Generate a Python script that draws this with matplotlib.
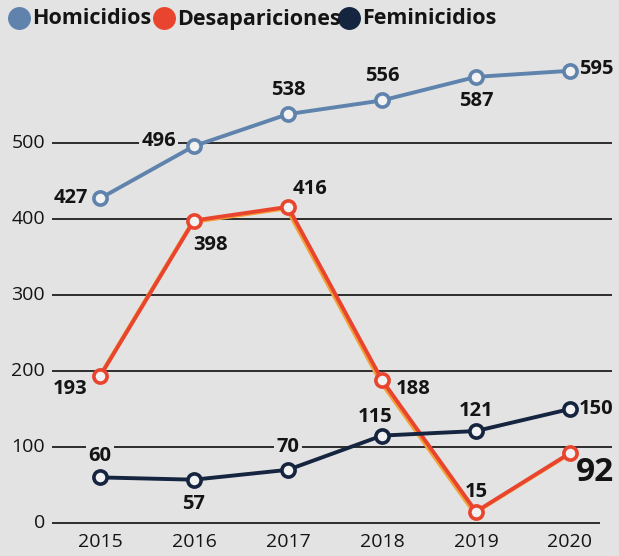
import matplotlib
matplotlib.use("Agg")
import matplotlib.pyplot as plt
from matplotlib.transforms import Affine2D

years = [2015, 2016, 2017, 2018, 2019, 2020]
homicidios = [427, 496, 538, 556, 587, 595]
desapariciones = [193, 398, 416, 188, 15, 92]
feminicidios = [60, 57, 70, 115, 121, 150]
y_ticks = [0, 100, 200, 300, 400, 500]
series_names = ["Homicidios", "Desapariciones", "Feminicidios"]

# label offsets in pixels (dx, dy, ha) for each point
hom_off = [(-12, 0, "right"), (-18, 5, "right"), (0, 24, "center"),
           (0, 24, "center"), (0, -24, "center"), (9, 2, "left")]
des_off = [(-30, -13, "center"), (17, -24, "center"), (22, 18, "center"),
           (14, -9, "left"), (0, 20, "center"), (6, -19, "left")]
fem_off = [(0, 21, "center"), (0, -24, "center"), (0, 23, "center"),
           (-7, 19, "center"), (0, 20, "center"), (9, 0, "left")]

bg = "#e3e3e3"
c_hom = "#5f83ad"
c_des = "#e9452e"
c_fem = "#15243f"
ink = "#141414"

plt.rcParams["font.family"] = ["Open Sans", "DejaVu Sans"]

W, H = 619, 556
fig = plt.figure(figsize=(W / 100, H / 100), dpi=100, facecolor=bg)
ax = fig.add_axes((0, 0, 1, 1))
ax.set_facecolor(bg)
ax.axis("off")

# pixel mapping: 2015 -> x=100, 94 px per year; 0 -> y=523, 0.76 px per unit
ppx = 94.0
ppy = 0.76
ax.set_xlim(2015 - 100 / ppx, 2015 + (W - 100) / ppx)
ax.set_ylim(-(H - 523) / ppy, 523 / ppy)

x0 = 2015 - 48 / ppx
x1 = 2015 + 512 / ppx
for t in y_ticks:
    ax.hlines(t, x0, x1 if t else 2015 + 500 / ppx, color="#1e1e1e", lw=1.3, zorder=1)
    ax.text(2015 - 55 / ppx, t, str(t), ha="right", va="center",
            fontsize=14, color=ink, zorder=2)

for yr in years:
    ax.text(yr, -(542 - 523) / ppy, str(yr), ha="center", va="center",
            fontsize=14, color=ink)


def draw(vals, color, offs, big_last=False):
    ax.plot(years, vals, color=color, lw=2.8, zorder=4,
            marker="o", ms=9.5, mfc="#f2f2f2", mec=color, mew=2.6,
            solid_capstyle="round")
    for i, (yr, v) in enumerate(zip(years, vals)):
        dx, dy, ha = offs[i]
        big = big_last and i == len(vals) - 1
        ax.annotate(str(v), (yr, v), xytext=(dx, dy), textcoords="offset pixels",
                    ha=ha, va="center", fontsize=24 if big else 14.5,
                    fontweight="bold", color=ink, zorder=3,
                    bbox=dict(boxstyle="square,pad=0.12", fc=bg, ec="none"))


# slight orange misregistration under the red line
ax.plot(years, desapariciones, color="#f2a23a", lw=2.8, zorder=3.5,
        transform=ax.transData + Affine2D().translate(-1.5, -1.5))
draw(homicidios, c_hom, hom_off)
draw(desapariciones, c_des, des_off, big_last=True)
draw(feminicidios, c_fem, fem_off)

# legend
leg_x = [19, 164, 349]
for name, col, cx in zip(series_names, [c_hom, c_des, c_fem], leg_x):
    fig.lines.append(plt.Line2D([cx / W], [1 - 18 / H], transform=fig.transFigure,
                                marker="o", ms=15.5, color=col, mec=col))
    fig.text((cx + 13) / W, 1 - 19 / H, name, ha="left", va="center",
             fontsize=15.5, fontweight="bold", color=ink)

fig.savefig("out.png", dpi=100, facecolor=bg)
